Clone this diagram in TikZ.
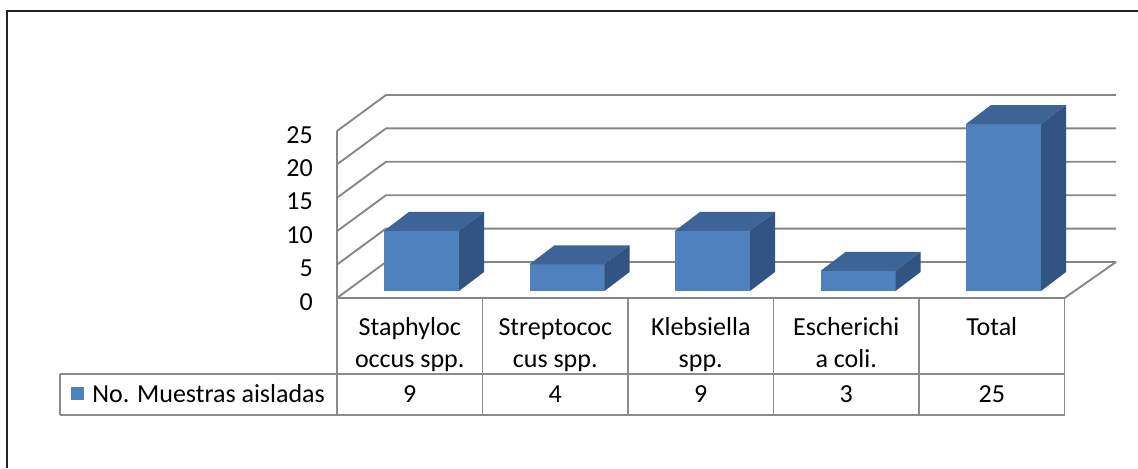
\documentclass[tikz,border=0pt]{standalone}
\usepackage{fontspec}
\setmainfont{Carlito}
\definecolor{barfront}{RGB}{79,129,189}
\definecolor{bartop}{RGB}{61,100,150}
\definecolor{barside}{RGB}{50,84,130}
\definecolor{gridgray}{RGB}{134,134,134}
\definecolor{tablegray}{RGB}{140,140,140}
\definecolor{framedark}{RGB}{35,35,35}
\begin{document}
\begin{tikzpicture}[x=0.75pt,y=-0.75pt,
  gridline/.style={draw=gridgray,line width=1.4pt},
  tabline/.style={draw=tablegray,line width=1.4pt},
  lbl/.style={font=\fontsize{19.5}{24}\selectfont,text=black,inner sep=0pt}]
\useasboundingbox (0,0) rectangle (1138,468);
\fill[white] (0,0) rectangle (1138,468);

% chart frame (left and top edges)
\draw[framedark,line width=1.8pt] (7,468) -- (7,11) -- (1138,11);

% side wall, back wall and floor gridlines
\foreach \v in {0,5,...,25} {
  \pgfmathsetmacro\yf{298-\v*6.68}
  \draw[gridline] (337,\yf) -- ++(49,-36) -- (1116,{\yf-36});
  \node[lbl,anchor=base east] (ax\v) at (313,{\yf+12}) {\v};
}
\draw[gridline] (337,131) -- (337,298);
\draw[gridline] (1064.5,298) -- (1116,262);

% 3-D columns
\foreach \i/\v in {0/9,1/4,2/9,3/3,4/25} {
  \pgfmathsetmacro\xl{337+145.5*\i+47}
  \pgfmathsetmacro\h{\v*6.68}
  \fill[barfront] (\xl,291) rectangle ++(75,-\h);
  \fill[bartop] (\xl,{291-\h}) -- ++(25,-19) -- ++(75,0) -- ++(-25,19) -- cycle;
  \fill[barside] ({\xl+75},291) -- ++(25,-19) -- ++(0,-\h) -- ++(-25,19) -- cycle;
}

% data table
\draw[gridline] (337,298) -- (1064.5,298);
\foreach \k in {0,...,5} {
  \draw[tabline] ({337+145.5*\k},298) -- ({337+145.5*\k},415);
}
\draw[tabline] (60,374) -- (1064.5,374);
\draw[tabline] (60,415) -- (1064.5,415);
\draw[tabline] (60,374) -- (60,415);

% category headers
\foreach \i/\la/\lb in {0/Staphyloc/occus spp.,1/Streptococ/cus spp.,2/Klebsiella/spp.,3/Escherichi/a coli.} {
  \pgfmathsetmacro\cx{337+145.5*\i+72.75}
  \node[lbl,anchor=base] (ha\i) at (\cx,335) {\la};
  \node[lbl,anchor=base] (hb\i) at (\cx,367) {\lb};
}
\node[lbl,anchor=base] (ha4) at ({337+145.5*4+72.75},335) {Total};

% values
\foreach \i/\v in {0/9,1/4,2/9,3/3,4/25} {
  \pgfmathsetmacro\cx{337+145.5*\i+72.75}
  \node[lbl,anchor=base] (val\i) at (\cx,402) {\v};
}

% legend key
\fill[barfront] (71,387) rectangle (84,400);
\node[lbl,anchor=base west] (series) at (92,402) {No. Muestras aisladas};
\end{tikzpicture}
\end{document}
